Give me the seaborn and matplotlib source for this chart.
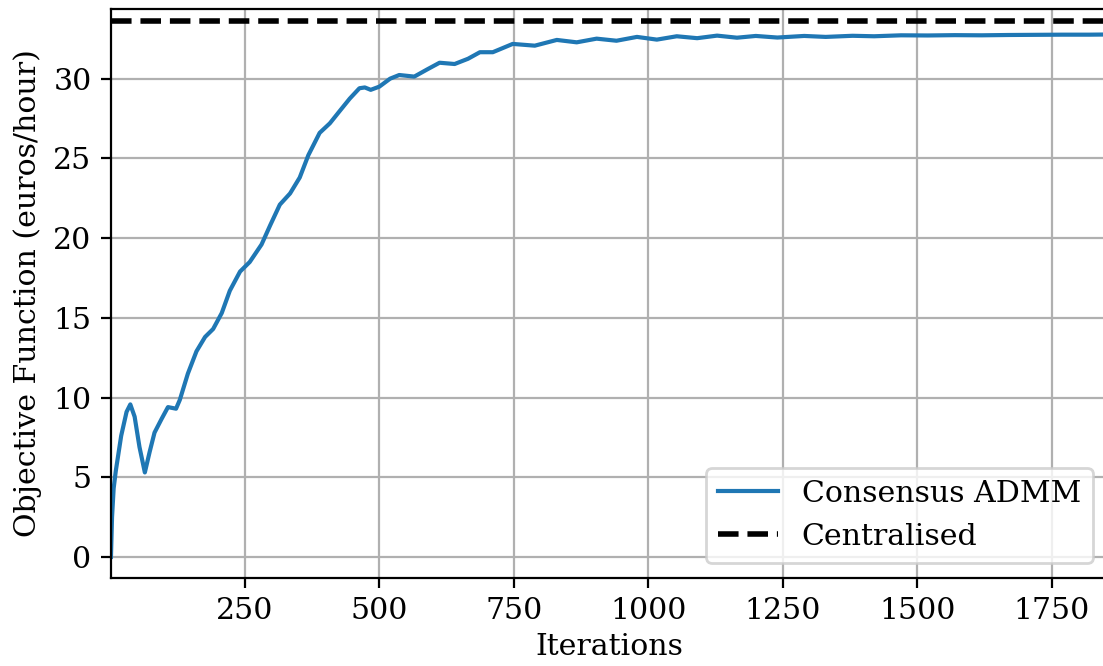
import seaborn as sns
import matplotlib.pyplot as plt
import pandas as pd

# Values
iterations = [1, 3, 6, 10, 20, 30, 37, 45, 54, 64, 73, 82, 95, 107, 122, 129, 144, 160,
              176, 191, 207, 222, 241, 259, 281, 297, 315, 334, 352, 368, 389, 408, 427,
              445, 463, 473, 484, 500, 520, 537, 565, 590, 612, 640, 665, 687, 711, 748,
              789, 830, 867, 904, 941, 979, 1016, 1053, 1091, 1128, 1165, 1200, 1240,
              1290, 1330, 1380, 1420, 1470, 1520, 1570, 1620, 1670, 1720, 1770, 1820, 1850]
admm_objective = [0, 2.5, 4.3, 5.4, 7.6, 9.1, 9.57, 8.8, 6.9, 5.3, 6.6, 7.8, 8.65, 9.4, 9.3,
                  9.85, 11.5, 12.9, 13.8, 14.3, 15.3, 16.7, 17.9, 18.5, 19.6, 20.8, 22.1,
                  22.8, 23.8, 25.2, 26.6, 27.2, 28.0, 28.75, 29.4, 29.45, 29.3, 29.5, 30.0,
                  30.23, 30.13, 30.6, 31.0, 30.92, 31.25, 31.66, 31.66, 32.18, 32.07, 32.43,
                  32.28, 32.51, 32.38, 32.62, 32.45, 32.66, 32.54, 32.7, 32.57, 32.68, 32.58,
                  32.68, 32.62, 32.69, 32.66, 32.72, 32.71, 32.73, 32.72, 32.74, 32.75,
                  32.76, 32.76, 32.77]
centralised_objective = 33.6

df = pd.DataFrame({"Iterations": iterations, "Objective": admm_objective})

plt.rcParams["font.family"] = "DejaVu Serif"
plt.rcParams["font.size"] = 10.8

fig = plt.figure(figsize = (5.515, 3.33), dpi = 200)
ax = fig.add_axes([0.1006, 0.1326, 0.904, 0.8534])

sns.lineplot(x = "Iterations", y = "Objective", data = df, ax = ax,
             color = "#1f77b4", linewidth = 1.5, label = "Consensus ADMM")
ax.axhline(centralised_objective, color = "black", linestyle = "--",
           linewidth = 2, label = "Centralised")

ax.set(xlim = (1, 1855), ylim = (-1.3, 34.35),
       xlabel = "Iterations", ylabel = "Objective Function (euros/hour)")
ax.xaxis.labelpad = 3
ax.set_xticks([250, 500, 750, 1000, 1250, 1500, 1750])
ax.set_yticks([0, 5, 10, 15, 20, 25, 30])
ax.grid(True, color = "#b0b0b0", linewidth = 0.8)
ax.spines["right"].set_visible(False)
ax.legend(loc = "lower right", fontsize = 10.8)

fig.savefig("out.png", dpi = 200)
